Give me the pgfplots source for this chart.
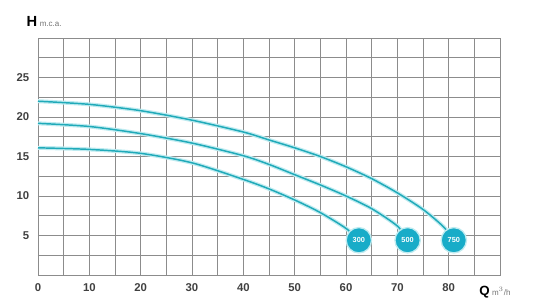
\documentclass[border=0pt]{standalone}
\usepackage{pgfplots}
\usepackage{pgfplotstable}
\usepackage{fontspec}
\setmainfont{Liberation Sans}
\pgfplotsset{compat=1.18}
\definecolor{lineteal}{RGB}{32,170,185}
\definecolor{glow}{RGB}{190,235,240}
\definecolor{circ}{RGB}{24,172,200}
\definecolor{gridgray}{RGB}{140,140,140}
\pgfplotstableread{
x y
0 22
10 21.6
20 20.8
30 19.6
40 18.1
45 17.1
50 16.1
55 15.0
60 13.7
65 12.2
70 10.4
75 8.3
79 6.1
81 4.4
}\topcurve
\pgfplotstableread{
x y
0 19.2
10 18.8
20 17.9
30 16.7
40 15.1
45 14.0
50 12.7
55 11.4
60 10.0
65 8.4
70 6.2
72 4.4
}\midcurve
\pgfplotstableread{
x y
0 16.1
10 15.9
20 15.4
30 14.2
40 12.1
45 10.9
50 9.5
55 7.9
60 5.9
62.5 4.4
}\lowcurve
\begin{document}
\begin{tikzpicture}
\begin{axis}[
  scale only axis,
  width=346.5pt, height=177.75pt,
  xmin=0, xmax=90, ymin=0, ymax=30,
  xtick={0,10,...,80}, ytick={5,10,15,20,25},
  extra x ticks={5,15,...,85}, extra x tick labels={},
  extra y ticks={2.5,7.5,...,27.5}, extra y tick labels={},
  extra x tick style={grid=major, major grid style={gridgray, line width=0.5pt}},
  extra y tick style={grid=major, major grid style={gridgray, line width=0.5pt}},
  grid=major,
  major grid style={gridgray, line width=0.5pt},
  axis line style={gridgray, line width=0.6pt},
  tick style={draw=none},
  /pgf/number format/assume math mode=true,
  ticklabel style={font=\fontsize{8.5}{9}\selectfont\bfseries, text=black!75},
  xticklabel style={yshift=-3pt},
  yticklabel style={xshift=-3pt},
  clip=false,
]
\addplot[glow, line width=3pt, smooth, tension=0.45] table {\topcurve};
\addplot[glow, line width=3pt, smooth, tension=0.45] table {\midcurve};
\addplot[glow, line width=3pt, smooth, tension=0.45] table {\lowcurve};
\addplot[lineteal, line width=1.1pt, smooth, tension=0.45] table {\topcurve};
\addplot[lineteal, line width=1.1pt, smooth, tension=0.45] table {\midcurve};
\addplot[lineteal, line width=1.1pt, smooth, tension=0.45] table {\lowcurve};
\addplot[only marks, mark=*, mark size=9.5pt, mark options={fill=circ, draw=glow, line width=1pt},
  point meta=explicit symbolic,
  nodes near coords,
  nodes near coords align=center,
  nodes near coords style={anchor=center, text=white, font=\fontsize{5.5}{6}\selectfont\bfseries}]
  coordinates {(62.5,4.4)[300] (72,4.4)[500] (81,4.4)[750]};
\node[anchor=base west, inner sep=0pt] at (rel axis cs:-0.025,1.05) {\fontsize{11}{12}\selectfont\bfseries H\,\fontsize{6}{7}\selectfont\mdseries\color{black!55} m.c.a.};
\node[anchor=base west, inner sep=0pt] at (rel axis cs:0.955,-0.085) {\fontsize{10}{11}\selectfont\bfseries Q\,\fontsize{6}{7}\selectfont\mdseries\color{black!55} m$^3$/h};
\end{axis}
\path (current axis.south west) ++(-28.5pt,-22.5pt) (current axis.north east) ++(41.25pt,28.5pt);
\end{tikzpicture}
\end{document}
